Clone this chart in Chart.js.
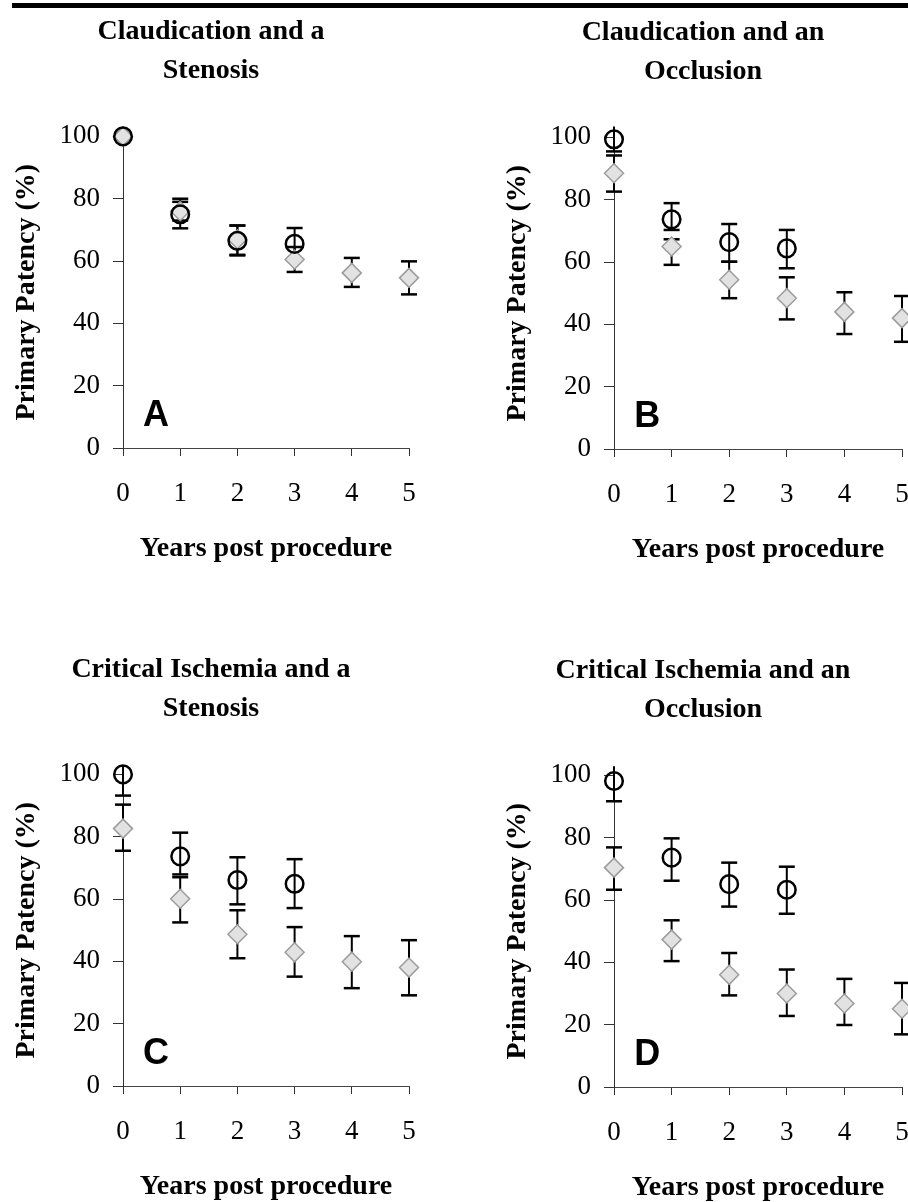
<!DOCTYPE html>
<html>
<head>
<meta charset="utf-8">
<script src="https://cdn.jsdelivr.net/npm/chart.js@4.4.0/dist/chart.umd.min.js"></script>
<style>
  html, body { margin: 0; padding: 0; background: #fff; }
  body { width: 908px; height: 1202px; position: relative; overflow: hidden; }
  #rule { position: absolute; left: 12px; top: 3px; width: 896px; height: 5px; background: #000; }
  canvas { position: absolute; }
</style>
</head>
<body>
<div id="rule"></div>
<canvas id="panelA" width="422" height="580" style="left:0px;top:1px"></canvas>
<canvas id="panelB" width="424" height="580" style="left:491px;top:2px"></canvas>
<canvas id="panelC" width="422" height="580" style="left:0px;top:639px"></canvas>
<canvas id="panelD" width="424" height="580" style="left:491px;top:640px"></canvas>
<script>
// Axis values
const years = [0, 1, 2, 3, 4, 5];
const xTickValues = [0, 1, 2, 3, 4, 5];
const yTickValues = [0, 20, 40, 60, 80, 100];

// Panel A - claudication, stenosis
const aCircle = [100, 75, 66.5, 65.5];
const aCircleLow = [null, 70.5, 61.8, 60.5];
const aCircleHigh = [null, 79, 71.4, 70.6];
const aDiamond = [100, 76, 67, 60.5, 56.2, 54.6];
const aDiamondLow = [null, 73, 62, 56.5, 51.7, 49.3];
const aDiamondHigh = [null, 80, 71.4, 64.5, 61, 59.9];

// Panel B - claudication, occlusion
const bCircle = [99.4, 73.7, 66.4, 64.4];
const bCircleLow = [95.5, 70.3, 60.1, 58];
const bCircleHigh = [103.5, 78.9, 72.2, 70.3];
const bDiamond = [88.5, 65, 54.3, 48.4, 44, 42];
const bDiamondLow = [82.6, 59.1, 48.4, 41.6, 36.9, 34.4];
const bDiamondHigh = [94.2, 67.3, 60.1, 55.1, 50.3, 49.1];

// Panel C - critical ischemia, stenosis
const cCircle = [100, 73.7, 66.1, 64.9];
const cCircleLow = [93.2, 67.9, 58.3, 57.1];
const cCircleHigh = [103, 81.3, 73.4, 72.8];
const cDiamond = [82.6, 60.1, 48.7, 42.9, 39.9, 38];
const cDiamondLow = [75.5, 52.5, 41, 35.1, 31.4, 29.1];
const cDiamondHigh = [90.3, 67, 56.4, 51, 48.1, 46.8];

// Panel D - critical ischemia, occlusion
const dCircle = [98.2, 73.6, 65.1, 63.3];
const dCircleLow = [91.7, 66.2, 57.9, 55.6];
const dCircleHigh = [102.9, 79.8, 72, 70.7];
const dDiamond = [70.4, 47.3, 36, 30, 26.8, 25.1];
const dDiamondLow = [63.3, 40.4, 29.4, 22.8, 19.9, 16.9];
const dDiamondHigh = [76.9, 53.5, 43, 37.7, 34.7, 33.4];

const serif = '"Liberation Serif", "Times New Roman", serif';

// Error bars, drawn under the markers
const errorBars = {
    id: 'errorBars',
    beforeDatasetsDraw(chart) {
        const { ctx, scales: { x, y } } = chart;
        ctx.save();
        ctx.strokeStyle = '#000';
        chart.data.datasets.forEach(ds => {
            ds.data.forEach((pt, i) => {
                const lo = ds.errLow[i];
                const hi = ds.errHigh[i];
                if (lo == null && hi == null) return;
                const px = x.getPixelForValue(pt.x);
                ctx.lineWidth = 2;
                ctx.beginPath();
                ctx.moveTo(px, y.getPixelForValue(lo ?? pt.y));
                ctx.lineTo(px, y.getPixelForValue(hi ?? pt.y));
                ctx.stroke();
                ctx.lineWidth = 2.5;
                [lo, hi].forEach(e => {
                    if (e == null || e > y.max) return;
                    const py = y.getPixelForValue(e);
                    ctx.beginPath();
                    ctx.moveTo(px - 8, py);
                    ctx.lineTo(px + 8, py);
                    ctx.stroke();
                });
            });
        });
        ctx.restore();
    }
};

// Big panel letter in the lower left corner
const panelLetter = {
    id: 'panelLetter',
    afterDatasetsDraw(chart, args, opts) {
        const { ctx, scales: { x, y } } = chart;
        ctx.save();
        ctx.font = 'bold 36px "Liberation Sans", Arial, sans-serif';
        ctx.fillStyle = '#000';
        ctx.textBaseline = 'alphabetic';
        ctx.fillText(opts.text, x.getPixelForValue(0.35), y.getPixelForValue(7));
        ctx.restore();
    }
};

function points(values) {
    return values.map((v, i) => ({ x: years[i], y: v }));
}

function makePanel(id, title, letter, circle, circleLow, circleHigh, diamond, diamondLow, diamondHigh) {
    const ctx = document.getElementById(id).getContext('2d');
    new Chart(ctx, {
        type: 'scatter',
        data: {
            datasets: [
                {
                    data: points(circle),
                    errLow: circleLow,
                    errHigh: circleHigh,
                    pointStyle: 'circle',
                    pointRadius: 8.8,
                    pointBorderWidth: 2.5,
                    pointBorderColor: '#000',
                    pointBackgroundColor: 'rgba(0,0,0,0)',
                    clip: false
                },
                {
                    data: points(diamond),
                    errLow: diamondLow,
                    errHigh: diamondHigh,
                    pointStyle: 'rectRot',
                    pointRadius: 9.5,
                    pointBorderWidth: 1.5,
                    pointBorderColor: '#9c9c9c',
                    pointBackgroundColor: '#e2e2e2',
                    clip: false
                }
            ]
        },
        options: {
            responsive: false,
            animation: false,
            events: [],
            layout: { padding: { left: 13, right: 13, top: 0, bottom: 0 } },
            plugins: {
                legend: { display: false },
                tooltip: { enabled: false },
                title: {
                    display: true,
                    text: title,
                    color: '#000',
                    font: { family: serif, size: 28, weight: 'bold', lineHeight: 1.4 },
                    padding: { top: 11, bottom: 46 }
                },
                panelLetter: { text: letter }
            },
            scales: {
                x: {
                    type: 'linear',
                    min: 0,
                    max: 5,
                    afterBuildTicks: s => { s.ticks = xTickValues.map(v => ({ value: v })); },
                    afterFit: s => {
                        s.height = 133;
                        s.paddingLeft = 0;
                        s.paddingRight = 0;
                    },
                    border: { color: '#444', width: 1 },
                    grid: { drawOnChartArea: false, tickLength: 8, color: '#333' },
                    ticks: { padding: 22, color: '#000', font: { family: serif, size: 27 } },
                    title: {
                        display: true,
                        text: 'Years post procedure',
                        color: '#000',
                        font: { family: serif, size: 28, weight: 'bold' },
                        padding: { top: 0, bottom: 15 }
                    }
                },
                y: {
                    min: 0,
                    max: 100,
                    afterBuildTicks: s => { s.ticks = yTickValues.map(v => ({ value: v })); },
                    afterFit: s => { s.width = 110; },
                    border: { color: '#333', width: 1 },
                    grid: { drawOnChartArea: false, tickLength: 10, color: '#333' },
                    ticks: { padding: 13, color: '#000', font: { family: serif, size: 27 } },
                    title: {
                        display: true,
                        text: 'Primary Patency (%)',
                        color: '#000',
                        font: { family: serif, size: 28, weight: 'bold', lineHeight: 1 },
                        padding: { top: 0, bottom: 0 }
                    }
                }
            }
        },
        plugins: [errorBars, panelLetter]
    });
}

makePanel('panelA', ['Claudication and a', 'Stenosis'], 'A',
    aCircle, aCircleLow, aCircleHigh, aDiamond, aDiamondLow, aDiamondHigh);
makePanel('panelB', ['Claudication and an', 'Occlusion'], 'B',
    bCircle, bCircleLow, bCircleHigh, bDiamond, bDiamondLow, bDiamondHigh);
makePanel('panelC', ['Critical Ischemia and a', 'Stenosis'], 'C',
    cCircle, cCircleLow, cCircleHigh, cDiamond, cDiamondLow, cDiamondHigh);
makePanel('panelD', ['Critical Ischemia and an', 'Occlusion'], 'D',
    dCircle, dCircleLow, dCircleHigh, dDiamond, dDiamondLow, dDiamondHigh);
</script>
</body>
</html>
